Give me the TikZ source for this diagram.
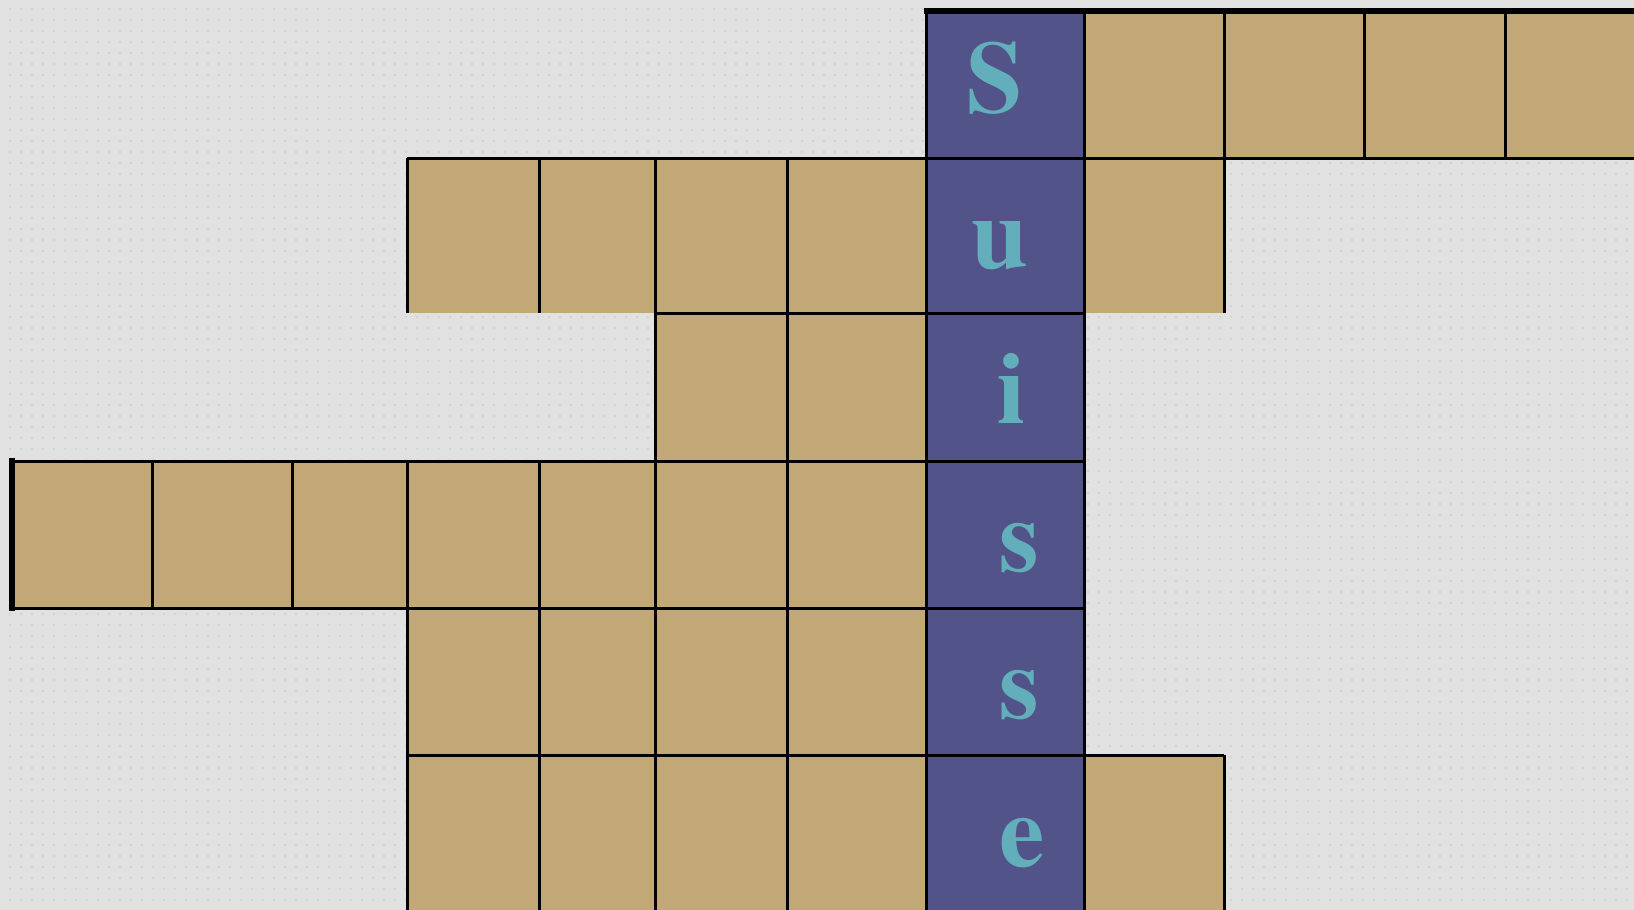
\documentclass[tikz,border=0pt]{standalone}
\usepackage{fontspec}
\usetikzlibrary{patterns.meta}
\newfontfamily\lfont{texgyretermes-bold.otf}
\definecolor{bgc}{RGB}{225,225,225}
\definecolor{dotc}{RGB}{208,208,208}
\definecolor{tan}{RGB}{193,168,118}
\definecolor{bluec}{RGB}{82,83,137}
\definecolor{teal}{RGB}{99,174,187}
\tikzset{
  cellfill/.style={fill=tan},
  bluefill/.style={fill=bluec},
  grid line/.style={draw=black,line width=3pt},
  thick border/.style={draw=black,line width=6.5pt},
  letter/.style={anchor=base,inner sep=0pt,text=teal,font=\lfont\fontsize{102}{102}\selectfont}
}
\begin{document}
\begin{tikzpicture}[x=1pt,y=-1pt]
\useasboundingbox (0,0) rectangle (1634,910);
\fill[bgc] (0,0) rectangle (1634,910);
\fill[pattern={Dots[radius=1.1pt,distance=10.5pt]},pattern color=dotc] (0,0) rectangle (1634,910);
% tan cells
\fill[cellfill] (1084,10) rectangle (1640,158);
\fill[cellfill] (407,158) rectangle (926,313);
\fill[cellfill] (1084,158) rectangle (1224,313);
\fill[cellfill] (655,313) rectangle (926,461);
\fill[cellfill] (10,461) rectangle (926,608);
\fill[cellfill] (407,608) rectangle (926,755);
\fill[cellfill] (407,755) rectangle (926,915);
\fill[cellfill] (1084,755) rectangle (1224,915);
% blue column
\fill[bluefill] (926,10) rectangle (1084,915);
% horizontal lines
\draw[grid line] (407,158) -- (1640,158);
\draw[grid line] (655,313) -- (1084,313);
\draw[grid line] (10,461) -- (1084,461);
\draw[grid line] (10,608) -- (1084,608);
\draw[grid line] (407,755) -- (1224,755);
% vertical lines
\draw[grid line] (152,461) -- (152,608);
\draw[grid line] (292,461) -- (292,608);
\draw[grid line] (407,158) -- (407,313);
\draw[grid line] (407,461) -- (407,915);
\draw[grid line] (539,158) -- (539,313);
\draw[grid line] (539,461) -- (539,915);
\draw[grid line] (655,158) -- (655,915);
\draw[grid line] (787,158) -- (787,915);
\draw[grid line] (926,10) -- (926,915);
\draw[grid line] (1084,10) -- (1084,915);
\draw[grid line] (1224,10) -- (1224,313);
\draw[grid line] (1224,755) -- (1224,915);
\draw[grid line] (1364,10) -- (1364,158);
\draw[grid line] (1505,10) -- (1505,158);
% thick outer borders
\draw[thick border] (924,11) -- (1640,11);
\draw[thick border] (12,458) -- (12,611);
% letters
\node[letter] (l1) at (995,112) {S};
\node[letter] (l2) at (1000,268) {u};
\node[letter] (l3) at (1012,423) {i};
\node[letter] (l4) at (1019,571) {s};
\node[letter] (l5) at (1019,718) {s};
\node[letter] (l6) at (1022,866) {e};
\end{tikzpicture}
\end{document}
